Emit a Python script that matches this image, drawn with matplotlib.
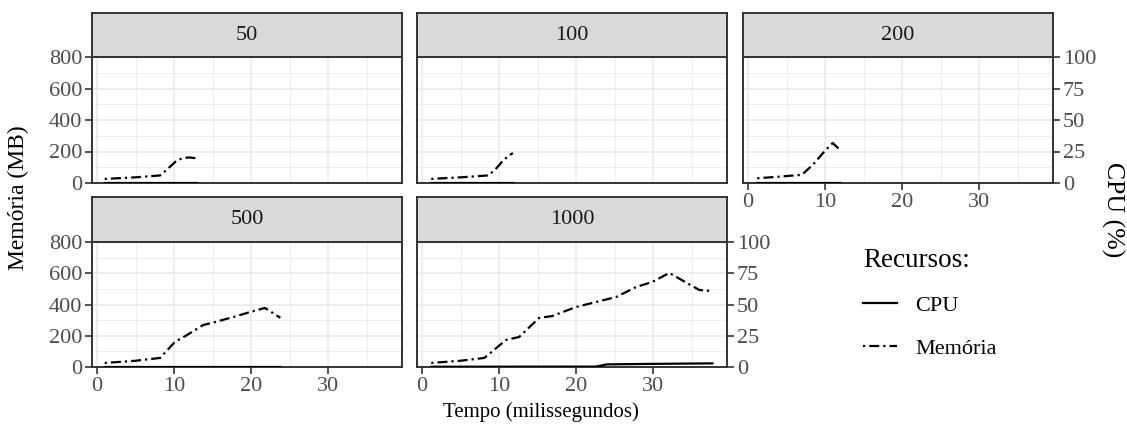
import matplotlib.pyplot as plt
import numpy as np

plt.rcParams['font.family'] = ['Liberation Serif', 'DejaVu Serif']

# dados (tempo em ms, memória em MB, CPU em %)
paineis = ['50', '100', '200', '500', '1000']

t_mem = {
    '50':   [1.0, 5.0, 8.2, 9.3, 10.4, 11.3, 12.1, 13.0],
    '100':  [1.2, 5.0, 8.6, 9.5, 10.4, 11.2, 11.8],
    '200':  [1.2, 4.0, 7.0, 8.5, 10.0, 11.0, 11.9],
    '500':  [1.0, 5.0, 8.2, 10.1, 11.7, 13.8, 14.9, 17.7, 19.9, 21.8, 23.8],
    '1000': [1.2, 5.0, 8.1, 10.9, 12.6, 15.2, 16.9, 20.0, 25.2, 27.8, 29.9,
             32.1, 36.0, 37.7],
}
memoria = {
    '50':   [26, 36, 48, 95, 145, 160, 162, 156],
    '100':  [26, 36, 48, 85, 135, 172, 190],
    '200':  [30, 40, 52, 120, 205, 254, 212],
    '500':  [26, 40, 58, 160, 205, 269, 282, 320, 352, 378, 315],
    '1000': [26, 40, 58, 173, 192, 314, 326, 384, 448, 512, 544, 602, 493, 486],
}
t_cpu = {
    '50':   [1.0, 13.0],
    '100':  [1.2, 11.8],
    '200':  [1.2, 11.9],
    '500':  [1.0, 23.8],
    '1000': [1.2, 22.6, 24.0, 30.0, 37.7],
}
cpu = {
    '50':   [0.2, 0.2],
    '100':  [0.2, 0.2],
    '200':  [0.2, 0.2],
    '500':  [0.2, 0.2],
    '1000': [0.2, 0.3, 2.1, 2.5, 2.9],
}

W, H = 1127, 432
fig = plt.figure(figsize=(W / 100, H / 100), dpi=100)

# posições dos painéis em pixels (esquerda, topo do painel, base do painel)
cols = [92, 417, 743]
larg = 310
linhas = [(57, 183, 13), (242, 367, 197)]

borda = '#333333'
cinza = '#4D4D4D'
tam = 16
tracejado = (0, (1, 1.8, 4.5, 1.8))

for k, nome in enumerate(paineis):
    lin, col = divmod(k, 3)
    topo, base, strip_topo = linhas[lin]
    x0 = cols[col]
    ax = fig.add_axes([x0 / W, (H - base) / H, larg / W, (base - topo) / H])
    ax2 = ax.twinx()

    ax.set_xlim(-0.65, 39.6)
    ax.set_ylim(0, 800)
    ax.set_xticks([0, 10, 20, 30])
    ax.set_xticks([5, 15, 25, 35], minor=True)
    ax.set_yticks([0, 200, 400, 600, 800])
    ax.set_yticks([100, 300, 500, 700], minor=True)
    ax.grid(True, which='major', color='#EBEBEB', lw=1.2)
    ax.grid(True, which='minor', color='#EBEBEB', lw=0.6)
    ax.set_axisbelow(True)
    for s in ax.spines.values():
        s.set_color(borda)
        s.set_linewidth(1.4)
        s.set_zorder(5)
    ax.tick_params(which='minor', length=0)
    ax.tick_params(which='major', colors=borda, width=1.2, length=5,
                   labelcolor=cinza, labelsize=tam, pad=2)
    mostra_x = (k >= 2)
    mostra_y = (col == 0)
    ax.tick_params(axis='x', bottom=mostra_x, labelbottom=mostra_x)
    ax.tick_params(axis='y', left=mostra_y, labelleft=mostra_y,
                   right=False, labelright=False)

    ax.plot(t_mem[nome], memoria[nome], color='black', lw=1.6,
            linestyle=tracejado, zorder=3)

    ax2.set_ylim(0, 100)
    ax2.set_yticks([0, 25, 50, 75, 100])
    for s in ax2.spines.values():
        s.set_visible(False)
    direita = nome in ('200', '1000')
    ax2.tick_params(axis='y', right=direita, labelright=direita,
                    left=False, labelleft=False, colors=borda,
                    width=1.2, length=5, labelcolor=cinza, labelsize=tam, pad=2)
    ax2.plot(t_cpu[nome], cpu[nome], color='black', lw=1.6, zorder=3)

    # faixa com o título do painel
    st = fig.add_axes([x0 / W, (H - topo) / H, larg / W, (topo - strip_topo) / H])
    st.set_facecolor('#D9D9D9')
    st.set_xticks([])
    st.set_yticks([])
    for s in st.spines.values():
        s.set_color(borda)
        s.set_linewidth(1.4)
    st.text(0.5, 0.5, nome, ha='center', va='center', fontsize=tam,
            color='#1A1A1A', transform=st.transAxes)

fig.text(18 / W, 1 - 198 / H, 'Memória (MB)', rotation=90, ha='center',
         va='center', fontsize=17)
fig.text(541 / W, 1 - 412 / H, 'Tempo (milissegundos)', ha='center',
         va='center', fontsize=15)
fig.text(1113 / W, 1 - 210 / H, 'CPU (%)', rotation=-90, ha='center',
         va='center', fontsize=18.5)

h_cpu, = plt.plot([], [], color='black', lw=1.6)
h_mem, = plt.plot([], [], color='black', lw=1.6, linestyle=tracejado)
leg = fig.legend([h_cpu, h_mem], ['CPU', 'Memória'], title='Recursos:',
                 loc='upper left', bbox_to_anchor=(843 / W, 1 - 228 / H),
                 frameon=False, fontsize=tam, title_fontsize=19.5,
                 handlelength=1.55, labelspacing=1.0, alignment='left')

fig.savefig('out.png', dpi=100)
